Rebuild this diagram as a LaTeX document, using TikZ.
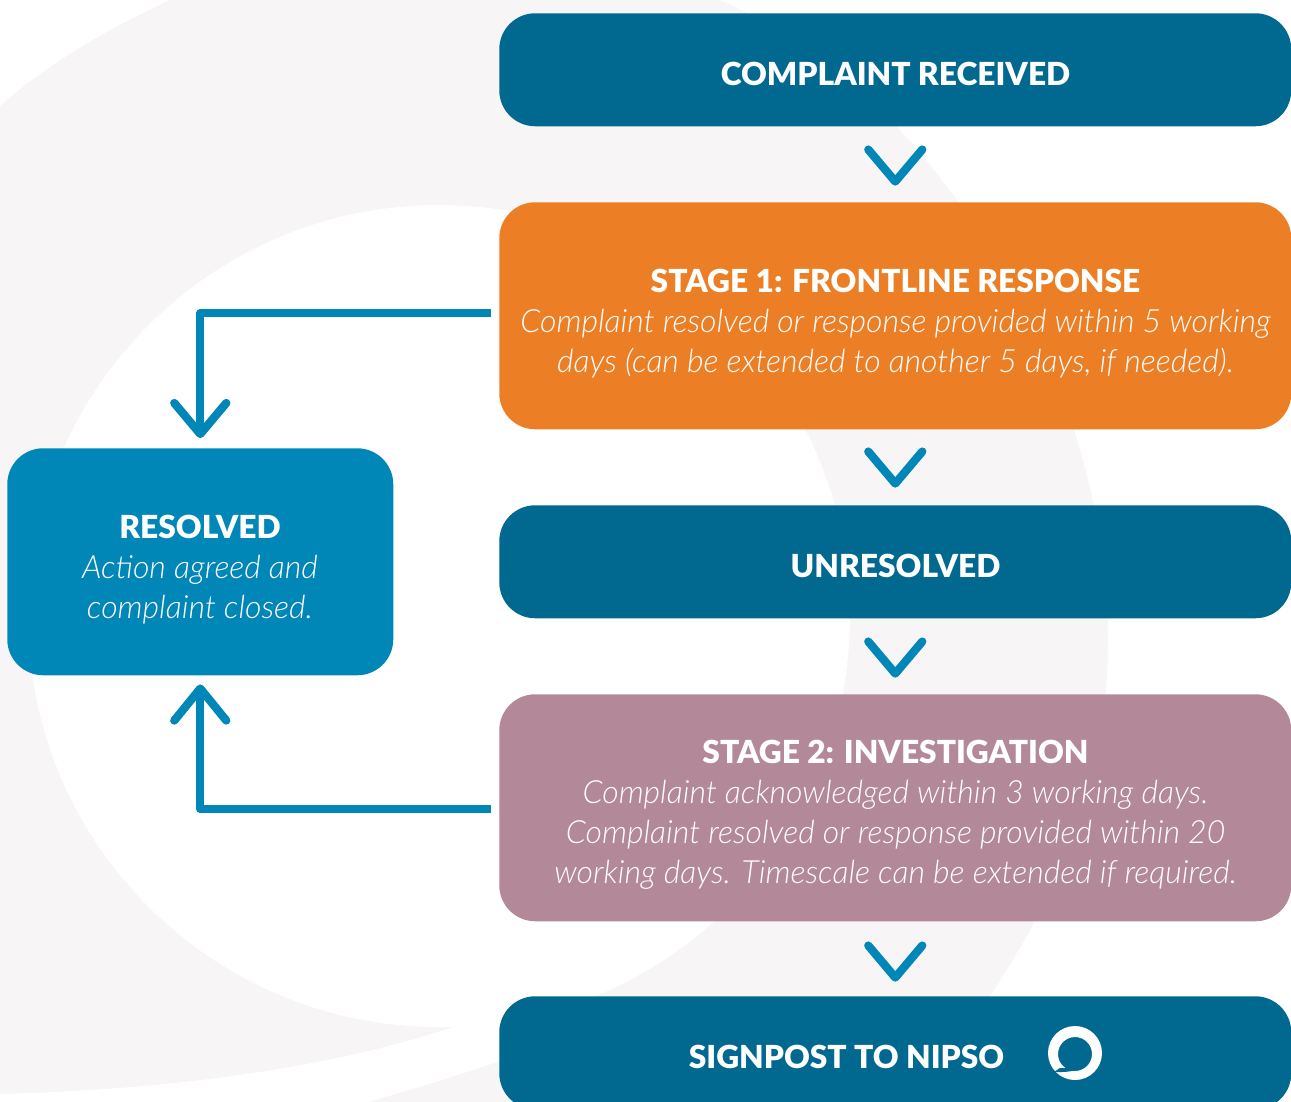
\documentclass[tikz,border=0pt]{standalone}
\usepackage{fontspec}
\usetikzlibrary{calc}
\setmainfont{Lato}[ItalicFont={Lato Light Italic},BoldFont={Lato Black}]
\definecolor{darkblue}{HTML}{016890}
\definecolor{midblue}{HTML}{0087B7}
\definecolor{orangebox}{HTML}{EC7F25}
\definecolor{mauvebox}{HTML}{B3899A}
\definecolor{bggrey}{HTML}{F7F5F6}
\newcommand{\headfont}{\fontsize{23.8}{30}\selectfont\bfseries}
\newcommand{\bodyfont}{\fontsize{24}{30}\selectfont\itshape}
\tikzset{
  flowbox/.style={rounded corners=27pt, inner sep=0pt, anchor=north west},
  widebox/.style={flowbox, minimum width=594pt},
  shortbox/.style={minimum height=84.75pt},
  tallbox/.style={minimum height=170.25pt},
  boxtext/.style={text=white, align=center, inner sep=0pt},
  link/.style={draw=midblue, line width=6pt, line join=round},
  chev/.style={draw=midblue, line width=6.2pt, line cap=round, line join=round},
}
\begin{document}
\begin{tikzpicture}[x=0.75pt,y=-0.75pt]
\useasboundingbox (0,0) rectangle (1291,1101);
\fill[white] (0,0) rectangle (1291,1101);
\begin{scope}
\clip (0,0) rectangle (1291,1101);
\fill[bggrey] (0,106) .. controls (50,62) and (110,28) .. (170,0) -- (170,-5) -- (720,-5) -- (720,0)
  .. controls (790,32) and (850,78) .. (897,127)
  .. controls (1020,260) and (1108,450) .. (1108,640)
  .. controls (1108,780) and (1060,890) .. (990,996)
  -- (900,1105) -- (0,1105) -- cycle;
\fill[white] (439,616) circle[radius=411];
\fill[white] (-5,1094) .. controls (170,1090) and (330,1068) .. (453,1027) -- (560,1000) -- (560,1040)
  -- (497,1062) .. controls (450,1078) and (410,1090) .. (368,1102) -- (-5,1102) -- cycle;
\end{scope}
\node[widebox,shortbox,fill=darkblue] (received) at (499,13) {};
\node[widebox,tallbox,fill=orangebox] (stageone) at (499,202) {};
\node[widebox,shortbox,fill=darkblue] (unresolved) at (499,505) {};
\node[widebox,tallbox,fill=mauvebox] (stagetwo) at (499,694) {};
\node[flowbox,tallbox,minimum width=289.5pt,fill=midblue] (resolved) at (7,448) {};
\node[widebox,shortbox,fill=darkblue] (signpost) at (499,996) {};
\node[boxtext,font=\headfont] (receivedtext) at (895.5,74) {COMPLAINT RECEIVED};
\node[boxtext,font=\bodyfont] (stageonetext) at (895.5,324) {{\headfont\upshape STAGE 1: FRONTLINE RESPONSE}\\Complaint resolved or response provided within 5 working\\days (can be extended to another 5 days, if needed).};
\node[boxtext,font=\headfont] (unresolvedtext) at (895.5,566) {UNRESOLVED};
\node[boxtext,font=\bodyfont] (stagetwotext) at (895.5,815) {{\headfont\upshape STAGE 2: INVESTIGATION}\\Complaint acknowledged within 3 working days.\\Complaint resolved or response provided within 20\\working days. Timescale can be extended if required.};
\node[boxtext,font=\bodyfont] (resolvedtext) at (200,570) {{\headfont\upshape RESOLVED}\\Action agreed and\\complaint closed.};
\node[boxtext,font=\headfont] (signtext) at (846.5,1057) {SIGNPOST TO NIPSO};
% logo
\fill[white,even odd rule] (1075,1053) circle[radius=27] (1075,1054) circle[radius=17];
\fill[darkblue] (1054,1072) .. controls (1062,1072.5) and (1072,1071.5) .. (1079,1069.5) -- (1072,1068) -- (1060,1068) -- cycle;
% chevron connectors
\foreach \a/\b/\off in {received/stageone/55, stageone/unresolved/54, unresolved/stagetwo/55, stagetwo/signpost/56}{
  \coordinate (tip\a) at ($(\a.south)+(0,\off)$);
  \draw[chev] ($(tip\a)+(-27,-32)$) -- (tip\a) -- ($(tip\a)+(27,-32)$);
}
% side connectors
\coordinate (outone) at (491,313);
\coordinate (outtwo) at (491,809);
\coordinate (tipdown) at ($(resolved.north)+(0,-14)$);
\coordinate (tipup) at ($(resolved.south)+(0,13)$);
\draw[link] (outone) -| (tipdown);
\draw[chev] ($(tipdown)+(-26,-31)$) -- (tipdown) -- ($(tipdown)+(26,-31)$);
\draw[link] (outtwo) -| (tipup);
\draw[chev] ($(tipup)+(-26,32)$) -- (tipup) -- ($(tipup)+(26,32)$);
\end{tikzpicture}
\end{document}
